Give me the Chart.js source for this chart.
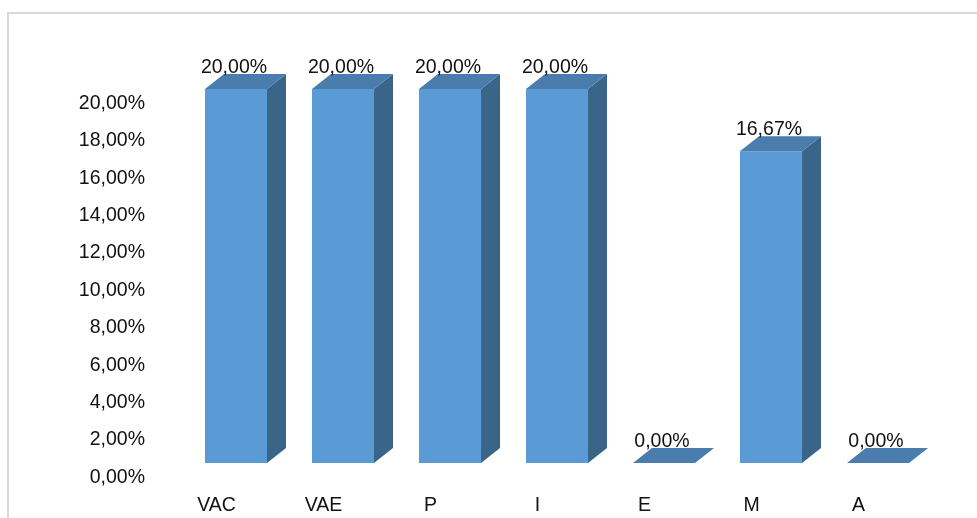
<!DOCTYPE html>
<html>
<head>
<meta charset="utf-8">
<script src="https://cdn.jsdelivr.net/npm/chart.js@4/dist/chart.umd.min.js"></script>
<style>
  html, body { margin: 0; padding: 0; background: #fff; overflow: hidden; }
  #wrap { position: relative; width: 977px; height: 518px; overflow: hidden; }
  #frame { position: absolute; left: 7px; top: 12px; width: 1100px; height: 700px;
           border-top: 2px solid #d9d9d9; border-left: 2px solid #d9d9d9; box-sizing: border-box; }
  #c { position: absolute; left: 0; top: 0; }
</style>
</head>
<body>
<div id="wrap">
  <div id="frame"></div>
  <canvas id="c" width="977" height="518"></canvas>
</div>
<script>
const categories = ["VAC", "VAE", "P", "I", "E", "M", "A"];
const values = [20, 20, 20, 20, 0, 16.67, 0];
const yTicks = [0, 2, 4, 6, 8, 10, 12, 14, 16, 18, 20];

function fmt(v) { return v.toFixed(2).replace('.', ',') + '%'; }

const DX = 19, DY = 15;
const FRONT = '#5b9bd5', TOP = '#4a7cae', SIDE = '#3a6488';
const FONT = "'Liberation Sans', Arial, sans-serif";
const FS = 19.5;

const box3d = {
  id: 'box3d',
  afterDatasetsDraw(chart) {
    const ctx = chart.ctx;
    const meta = chart.getDatasetMeta(0);
    ctx.save();
    meta.data.forEach((bar, i) => {
      const p = bar.getProps(['x', 'y', 'base', 'width'], true);
      const x1 = p.x - p.width / 2, x2 = p.x + p.width / 2;
      const top = p.y, base = p.base;
      if (base - top > 0.5) {
        ctx.fillStyle = SIDE;
        ctx.beginPath();
        ctx.moveTo(x2, top);
        ctx.lineTo(x2 + DX, top - DY);
        ctx.lineTo(x2 + DX, base - DY);
        ctx.lineTo(x2, base);
        ctx.closePath();
        ctx.fill();
      }
      ctx.fillStyle = TOP;
      ctx.beginPath();
      ctx.moveTo(x1, top);
      ctx.lineTo(x2, top);
      ctx.lineTo(x2 + DX, top - DY);
      ctx.lineTo(x1 + DX, top - DY);
      ctx.closePath();
      ctx.fill();
      ctx.fillStyle = '#111';
      ctx.font = FS + 'px ' + FONT;
      ctx.textAlign = 'center';
      ctx.textBaseline = 'alphabetic';
      ctx.fillText(fmt(values[i]), p.x - 2, top - DY - 1);
    });
    ctx.restore();
  }
};

new Chart(document.getElementById('c'), {
  type: 'bar',
  data: {
    labels: categories,
    datasets: [{
      data: values,
      backgroundColor: FRONT,
      borderWidth: 0,
      barPercentage: 0.58,
      categoryPercentage: 1.0
    }]
  },
  options: {
    responsive: false,
    animation: false,
    devicePixelRatio: 1,
    layout: { padding: { left: 0, right: 45.5, top: 89, bottom: 0 } },
    plugins: { legend: { display: false }, tooltip: { enabled: false } },
    scales: {
      x: {
        afterFit(scale) { scale.height = 55; },
        grid: { display: false, drawTicks: false },
        border: { display: false },
        ticks: { color: '#111', font: { family: FONT, size: FS }, padding: 31, labelOffset: -19.5, maxRotation: 0 }
      },
      y: {
        min: 0, max: 20,
        afterBuildTicks(scale) { scale.ticks = yTicks.map(v => ({ value: v })); },
        afterFit(scale) { scale.width = 182.5; },
        grid: { display: false, drawTicks: false },
        border: { display: false },
        ticks: { color: '#111', font: { family: FONT, size: FS }, padding: 37.5, labelOffset: 14.5, callback: v => fmt(v) }
      }
    }
  },
  plugins: [box3d]
});
</script>
</body>
</html>
